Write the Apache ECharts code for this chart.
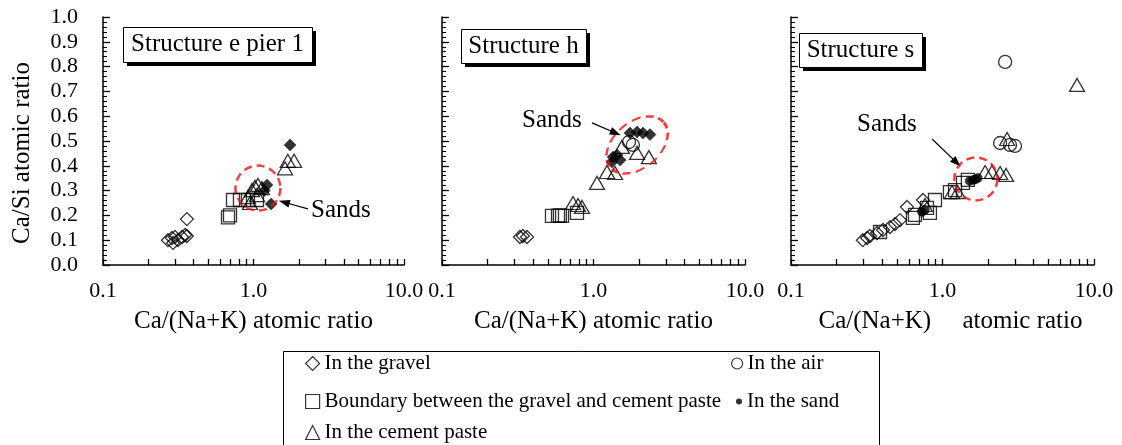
<!DOCTYPE html>
<html>
<head>
<meta charset="utf-8">
<script src="https://cdn.jsdelivr.net/npm/echarts@6/dist/echarts.min.js"></script>
<style>html,body{margin:0;padding:0;background:#fff}#c{width:1122px;height:445px}</style>
</head>
<body>
<div id="c"></div>
<script>
// ---------------- DATA ----------------
const panelTitles = ['Structure e pier 1', 'Structure h', 'Structure s'];
const xAxisNames = ['Ca/(Na+K) atomic ratio', 'Ca/(Na+K) atomic ratio', 'Ca/(Na+K)     atomic ratio'];
const yAxisName = 'Ca/Si atomic ratio';
const seriesNames = ['In the gravel', 'Boundary between the gravel and cement paste', 'In the cement paste', 'In the air', 'In the sand'];
const xTickValues = [0.1,0.2,0.3,0.4,0.5,0.6,0.7,0.8,0.9,1,2,3,4,5,6,7,8,9,10];
const xLabelValues = [0.1, 1, 10];

// Panel 1: Structure e pier 1
const p1Gravel = [[0.361,0.185],[0.361,0.117],[0.270,0.100],[0.287,0.109],[0.301,0.113],[0.315,0.100],[0.292,0.089],[0.335,0.113],[0.351,0.121]];
const p1Boundary = [[0.731,0.262],[0.813,0.262],[0.919,0.262],[1.055,0.262],[0.698,0.200],[0.677,0.192]];
const p1Cement = [[0.919,0.274],[0.977,0.302],[1.023,0.315],[1.071,0.323],[1.138,0.310],[1.055,0.282],[0.948,0.250],[1.62,0.39],[1.69,0.42],[1.86,0.42]];
const p1Air = [];
const p1Sand = [[1.75,0.484],[1.31,0.246],[1.23,0.323],[1.18,0.30]];

// Panel 2: Structure h
const p2Gravel = [[0.327,0.113],[0.342,0.117],[0.364,0.113]];
const p2Boundary = [[0.532,0.198],[0.583,0.198],[0.620,0.198],[0.600,0.200],[0.778,0.21]];
const p2Cement = [[1.055,0.331],[1.228,0.375],[1.387,0.371],[1.54,0.476],[1.94,0.452],[2.32,0.435],[0.732,0.25],[0.79,0.242],[0.84,0.234]];
const p2Air = [[1.715,0.496],[1.82,0.484]];
const p2Sand = [[1.742,0.532],[1.94,0.536],[2.12,0.532],[2.36,0.526],[1.345,0.435],[1.43,0.444],[1.50,0.423],[1.325,0.415]];

// Panel 3: Structure s
const p3Gravel = [[0.298,0.10],[0.318,0.109],[0.332,0.117],[0.370,0.129],[0.405,0.141],[0.450,0.153],[0.486,0.165],[0.524,0.181],[0.583,0.234],[0.743,0.262]];
const p3Boundary = [[0.387,0.133],[0.658,0.202],[0.638,0.19],[0.79,0.23],[0.892,0.262],[0.826,0.21],[1.12,0.294],[1.21,0.302],[1.365,0.331],[1.47,0.343]];
const p3Cement = [[1.156,0.294],[1.26,0.294],[1.91,0.375],[2.12,0.375],[2.40,0.371],[2.63,0.363],[0.766,0.242],[2.67,0.508],[7.73,0.726]];
const p3Air = [[2.59,0.819],[2.40,0.492],[2.79,0.484],[3.01,0.48]];
const p3Sand = [[1.59,0.343],[1.71,0.351],[1.51,0.339],[1.65,0.345],[0.766,0.222],[0.732,0.214]];

// "Sands" annotations (data coordinates)
const sandsRingCenters = [[1.07,0.31],[1.94,0.484],[1.66,0.347]];
const sandsLabelPos = [[3.81,0.222],[0.532,0.581],[0.430,0.565]];
const sandsArrowFrom = [[2.30,0.226],[0.977,0.573],[0.853,0.508]];
const sandsArrowTo = [[1.60,0.253],[1.40,0.532],[1.24,0.413]];

const panelData = [
  [p1Gravel, p1Boundary, p1Cement, p1Air, p1Sand],
  [p2Gravel, p2Boundary, p2Cement, p2Air, p2Sand],
  [p3Gravel, p3Boundary, p3Cement, p3Air, p3Sand]
];

// ---------------- STYLE ----------------
const FONT = 'Liberation Serif';
const TICK = '#000';
const grids = [
  {left:103, top:17, width:301, height:248},
  {left:442, top:17, width:303, height:248},
  {left:791, top:17, width:303, height:248}
];
const titleBoxes = [[123,27,189,35],[461,29,125,34],[799,33,123,34]];
const ringSizes = [[45,45],[70,46],[43,43]];
const ringRot = [0, 40, 0];
const hollow = {color:'rgba(0,0,0,0)', borderColor:'#000', borderWidth:1.3};
const symbolDefs = [
  {symbol:'diamond', size:13, style:hollow},
  {symbol:'rect', size:13, style:hollow},
  {symbol:'triangle', size:[15,13], style:hollow},
  {symbol:'circle', size:13, style:hollow},
  null
];

const chart = echarts.init(document.getElementById('c'), null, {renderer:'canvas'});
const xAxes = [], yAxes = [], series = [], graphics = [];
for (let i = 0; i < 3; i++) {
  xAxes.push({
    type:'log', logBase:10, min:0.1, max:10, gridIndex:i,
    axisLine:{show:true, lineStyle:{color:'#000', width:1.5}},
    axisTick:{show:true, inside:true, length:6, customValues:xTickValues, lineStyle:{color:TICK, width:1.3}},
    axisLabel:{show:true, fontFamily:FONT, fontSize:22, color:'#000', margin:15, customValues:xLabelValues,
      formatter:(v)=>Number(v).toFixed(1)},
    splitLine:{show:false},
    name:xAxisNames[i], nameLocation:'middle', nameGap:44,
    nameTextStyle:{fontFamily:FONT, fontSize:25, color:'#000', padding: i===2 ? [0,0,0,16] : 0}
  });
  yAxes.push({
    type:'value', min:0, max:1, interval:0.1, gridIndex:i,
    axisLine:{show:true, lineStyle:{color:'#000', width:1.5}},
    axisTick:{show:true, inside:true, length:7, lineStyle:{color:TICK, width:1.3}},
    minorTick:{show:true, splitNumber:5, length:4, lineStyle:{color:TICK, width:1.1}},
    axisLabel:{show:i===0, fontFamily:FONT, fontSize:22, color:'#000', margin:25,
      formatter:(v)=>Number(v).toFixed(1)},
    splitLine:{show:false},
    name: i===0 ? yAxisName : '', nameLocation:'middle', nameGap:68,
    nameTextStyle:{fontFamily:FONT, fontSize:25, color:'#000', padding:[0,24,0,0]}
  });
  const b = titleBoxes[i];
  graphics.push(
    {type:'rect', left:b[0]+4, top:b[1]+4, z:100, silent:true, shape:{width:b[2], height:b[3]}, style:{fill:'#000'}},
    {type:'rect', left:b[0], top:b[1], z:101, silent:true, shape:{width:b[2], height:b[3]}, style:{fill:'#fff', stroke:'#000', lineWidth:1}},
    {type:'text', x:b[0]+b[2]/2, y:b[1]+b[3]/2, z:102, silent:true,
     style:{text:panelTitles[i], fontFamily:FONT, fontSize:25, fill:'#000', align:'center', verticalAlign:'middle'}}
  );
  const sandSym = i < 2 ? {symbol:'diamond', size:12} : {symbol:'circle', size:9};
  for (let s = 0; s < 5; s++) {
    const def = s === 4 ? {symbol:sandSym.symbol, size:sandSym.size, style:{color:'#000', borderColor:'#000', borderWidth:0.5}} : symbolDefs[s];
    series.push({
      type:'scatter', name:seriesNames[s], xAxisIndex:i, yAxisIndex:i,
      symbol:def.symbol, symbolSize:def.size, itemStyle:def.style,
      data:panelData[i][s], silent:true
    });
  }
  series.push({
    type:'scatter', name:'sands-ann-' + i, xAxisIndex:i, yAxisIndex:i, silent:true, z:5,
    data:[sandsRingCenters[i]], symbol:'circle', symbolSize:ringSizes[i], symbolRotate:ringRot[i],
    itemStyle:{color:'rgba(0,0,0,0)', borderColor:'#ee1111', borderWidth:2.5, borderType:[8,5]},
    markLine:{
      silent:true, symbol:['none','triangle'], symbolSize:[8,11], label:{show:false},
      lineStyle:{color:'#000', width:1.2, type:'solid'},
      data:[[{coord:sandsArrowFrom[i]},{coord:sandsArrowTo[i]}]]
    },
    markPoint:{
      silent:true, symbol:'circle', symbolSize:0,
      label:{show:true, position:'inside', formatter:'Sands', fontFamily:FONT, fontSize:25, color:'#000'},
      data:[{coord:sandsLabelPos[i]}]
    }
  });
}
graphics.push({type:'rect', left:281, top:349, shape:{width:596, height:110}, silent:true,
  style:{fill:'none', stroke:'#000', lineWidth:1}});

const legendText = {fontFamily:FONT, fontSize:21, color:'#000'};
const hollowLegend = {color:'rgba(0,0,0,0)', borderColor:'#000', borderWidth:1.2};
function legendRow(name, icon, left, top, w, style) {
  return {data:[{name:name, icon:icon}], orient:'horizontal', left:left, top:top,
    itemWidth:w, itemHeight:w, padding:0, selectedMode:false, textStyle:legendText, itemStyle:style};
}
const option = {
  animation:false,
  backgroundColor:'#fff',
  grid:grids,
  xAxis:xAxes,
  yAxis:yAxes,
  legend:[
    legendRow(seriesNames[0], 'diamond', 305, 353, 14, hollowLegend),
    legendRow(seriesNames[1], 'rect', 305, 391, 14, hollowLegend),
    legendRow(seriesNames[2], 'triangle', 305, 422, 14, hollowLegend),
    legendRow(seriesNames[3], 'circle', 731, 353, 11, hollowLegend),
    legendRow(seriesNames[4], 'circle', 736, 391, 6, {color:'#000', borderWidth:0})
  ],
  graphic:graphics,
  series:series
};
chart.setOption(option);
</script>
</body>
</html>
